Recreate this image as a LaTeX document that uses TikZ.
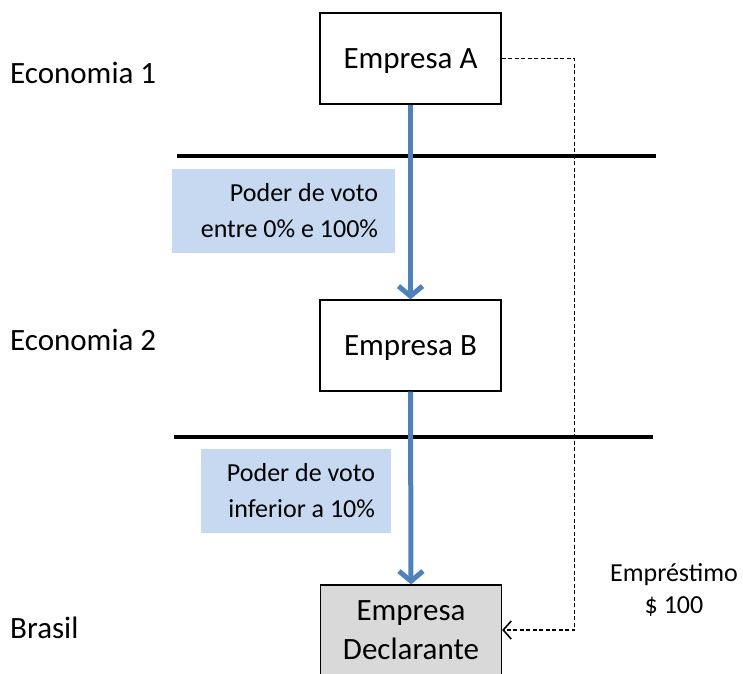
\documentclass[tikz,border=0pt]{standalone}
\usepackage{fontspec}
\setmainfont{Carlito}
\usetikzlibrary{arrows.meta}
\definecolor{blueA}{HTML}{4F81BD}
\definecolor{lblue}{HTML}{C6D9F1}
\definecolor{grayfill}{HTML}{D9D9D9}
\begin{document}
\begin{tikzpicture}[x=1pt,y=-1pt,
 firm/.style={draw=black,line width=1.3pt,minimum width=181pt,minimum height=91pt,inner sep=0pt,text depth=0pt,font=\fontsize{31}{39}\selectfont,align=center},
 lblbox/.style={fill=lblue,inner sep=0pt,minimum height=84pt},
 lbltext/.style={inner sep=0pt,font=\fontsize{26}{36}\selectfont,align=right,anchor=east},
 econ/.style={anchor=west,font=\fontsize{31}{38}\selectfont,inner sep=0pt},
 rule/.style={line width=4pt},
 own/.style={draw=blueA,line width=5pt,-{Straight Barb[length=10pt,width=24pt]}},
 loan/.style={dash pattern=on 4pt off 2.5pt,line width=1.6pt,-{Straight Barb[length=8pt,width=18pt]}}]
\useasboundingbox (0,0) rectangle (743,673);
% rules
\draw[rule] (177,156) -- (656,156);
\draw[rule] (174,437) -- (653,437);
% labels
\node[econ] (e1) at (10,73) {Economia 1};
\node[econ] (e2) at (10,340) {Economia 2};
\node[econ] (e3) at (10,628) {Brasil};
% blue label boxes
\node[lblbox,minimum width=223pt] (l1) at (283.5,211) {};
\node[lbltext] (l1t) at ([xshift=-17pt]l1.east) {Poder de voto\\entre 0\% e 100\%};
\node[lblbox,minimum width=190pt] (l2) at (296,491) {};
\node[lbltext] (l2t) at ([xshift=-16pt]l2.east) {Poder de voto\\inferior a 10\%};
% firms
\node[firm] (A) at (410.5,58.5) {Empresa A};
\node[firm] (B) at (410.5,345.5) {Empresa B};
\node[firm,fill=grayfill,minimum height=90pt] (D) at (411,630) {Empresa\\Declarante};
% arrows
\draw[own] (A.south) -- (B.north);
\draw[own] (B.south) -- (D.north);
\draw[loan] (A.east) -- ++(73,0) |- (D.east);
\node[inner sep=0pt,align=center,font=\fontsize{26}{32}\selectfont] (loanlbl) at (674,590) {Empréstimo\\\$ 100};
\end{tikzpicture}
\end{document}
